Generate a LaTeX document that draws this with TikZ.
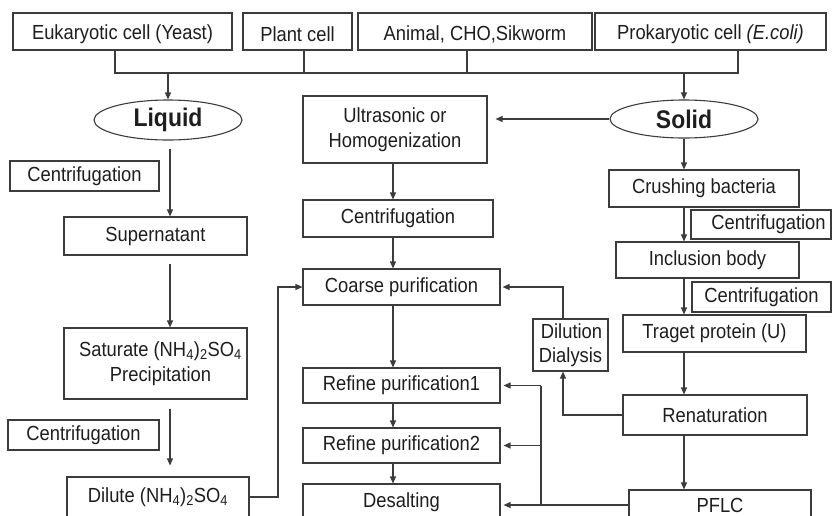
\documentclass[tikz,border=0pt]{standalone}
\usepackage{fontspec}
\setmainfont[FakeStretch=0.9]{Liberation Sans}
\usetikzlibrary{arrows.meta,shapes.geometric}
\definecolor{linec}{HTML}{3C3C3C}
\definecolor{txtc}{HTML}{1E1E1E}
\newcommand\bx[6][]{\node[box,#1,minimum width={#4-#2},minimum height={#5-#3}] (#6) at ({(#2+#4)/2},{(#3+#5)/2})}
\newcommand\lowr[1]{\raisebox{-3pt}[\height][\depth]{#1}}
\begin{document}
\begin{tikzpicture}[x=1pt,y=-1pt,
  box/.style={draw=linec,line width=1.1pt,inner sep=0pt,text=txtc,font=\fontsize{20.4}{24.5}\selectfont},
  ell/.style={ellipse,draw=linec,line width=1.1pt,inner sep=0pt,text=txtc,font=\fontsize{25.5}{28}\selectfont\bfseries},
  arr/.style={draw=linec,line width=1.2pt,-{Triangle[length=7pt,width=6pt]}},
  ln/.style={draw=linec,line width=1.2pt}]
\useasboundingbox (0,0) rectangle (834,515);
\fill[white] (0,0) rectangle (834,515);
\clip (0,0) rectangle (834,515);
% top row
\bx{13}{13}{232}{50}{euk} {\lowr{Eukaryotic cell (Yeast)}};
\bx{243}{13}{352}{50}{pla} {\lowr{Plant cell}};
\bx{358}{13}{592}{50}{ani} {\lowr{Animal, CHO,Sikworm}\hspace{19pt}};
\bx{595}{13}{826}{50}{pro} {\lowr{Prokaryotic cell \textit{(E.coli)}}};
% ellipses
\node[ell,minimum width=148,minimum height=40] (liq) at (168,120) {Liquid};
\node[ell,minimum width=148,minimum height=38] (sol) at (684,119) {Solid};
% middle column
\bx[align=center]{303}{96}{487}{163}{ult} {Ultrasonic or\\Homogenization};
\bx{303}{200}{493}{237}{cm} {Centrifugation};
\bx{303}{269}{500}{305}{coa} {Coarse purification};
\bx{303}{368}{500}{403}{r1} {Refine purification1};
\bx{303}{428}{500}{463}{r2} {Refine purification2};
\bx{303}{484}{500}{520}{des} {Desalting};
% left column
\bx{10}{161}{159}{191}{cl1} {Centrifugation};
\bx{64}{217}{247}{255}{sup} {Supernatant};
\bx[align=center]{64}{328}{247}{399}{sat} {\hspace*{10pt}Saturate (NH\textsubscript{4})\textsubscript{2}SO\textsubscript{4}\\\hspace*{10pt}Precipitation};
\bx{8}{420}{159}{450}{cl2} {Centrifugation};
\bx{67}{477}{249}{517}{dlt} {Dilute (NH\textsubscript{4})\textsubscript{2}SO\textsubscript{4}\hspace{12pt}};
% right column
\bx{609}{170}{799}{207}{cru} {Crushing bacteria};
\bx{691}{210}{831}{239}{cr1} {\hspace{15pt}Centrifugation};
\bx{616}{242}{799}{278}{inc} {Inclusion body\hspace{6pt}};
\bx{692}{282}{831}{312}{cr2} {Centrifugation};
\bx{623}{315}{806}{352}{tgt} {Traget protein (U)};
\bx{623}{395}{807}{435}{ren} {Renaturation};
\bx[align=right]{533}{319}{608}{371}{dil} {Dilution\\Dialysis};
\bx{629}{490}{811}{520}{pfl} {PFLC\hspace{18pt}};
% helper coordinates
\coordinate (c1) at (115,73);
\coordinate (c2) at (304,73);
\coordinate (c3) at (467,73);
\coordinate (c4) at (738,73);
\coordinate (mc) at (393,0);
\coordinate (lc) at (170,0);
\coordinate (lx) at (278,0);
\coordinate (rc) at (684,0);
\coordinate (dc) at (563,0);
\coordinate (vx) at (541,0);
% bus
\draw[ln] (c1|-euk.south) -- (c1) -- (c4) -- (c4|-pro.south);
\draw[ln] (c2|-pla.south) -- (c2);
\draw[ln] (c3|-ani.south) -- (c3);
\draw[arr] (liq.north|-c1) -- (liq.north);
\draw[arr] (sol.north|-c1) -- (sol.north);
% middle
\draw[arr,shorten >=8pt] (sol.west) -- (sol.west-|ult.east);
\draw[arr] (mc|-ult.south) -- (mc|-cm.north);
\draw[arr] (mc|-cm.south) -- (mc|-coa.north);
\draw[arr] (mc|-coa.south) -- (mc|-r1.north);
\draw[arr] (mc|-r1.south) -- (mc|-r2.north);
\draw[arr] (mc|-r2.south) -- (mc|-des.north);
% left
\draw[arr,shorten <=8pt] (lc|-liq.south) -- (lc|-sup.north);
\draw[arr,shorten <=8pt] (lc|-sup.south) -- (lc|-sat.north);
\draw[arr,shorten <=9pt,shorten >=11pt] (lc|-sat.south) -- (lc|-dlt.north);
\draw[arr] (dlt.east) -- (lx|-dlt.east) |- (coa.west);
% right
\draw[arr] (sol.south) -- (rc|-cru.north);
\draw[arr] (rc|-cru.south) -- (rc|-inc.north);
\draw[arr] (rc|-inc.south) -- (rc|-tgt.north);
\draw[arr] (rc|-tgt.south) -- (rc|-ren.north);
\draw[arr] (rc|-ren.south) -- (rc|-pfl.north);
\draw[arr] (ren.west) -| (dc|-dil.south);
\draw[arr,shorten >=2pt] (dc|-dil.north) |- (coa.east);
\draw[arr,shorten >=3pt] (pfl.west) -- (pfl.west-|des.east);
\draw[ln] (pfl.west-|vx) -- (vx|-r1.east);
\draw[arr,shorten >=3pt] (vx|-r1.east) -- (r1.east);
\draw[arr,shorten >=3pt] (vx|-r2.east) -- (r2.east);
\end{tikzpicture}
\end{document}
